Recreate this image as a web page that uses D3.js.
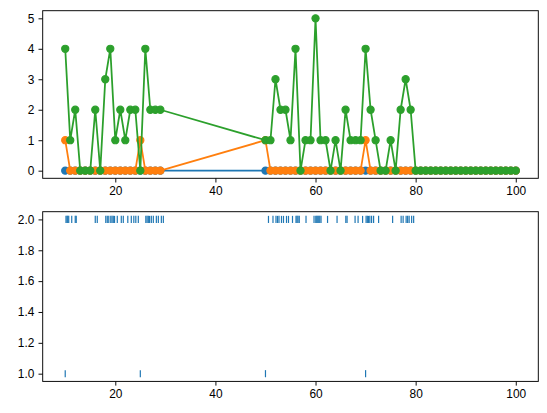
<!DOCTYPE html>
<html>
<head>
<meta charset="utf-8">
<script src="https://cdn.jsdelivr.net/npm/d3@7"></script>
<style>
  html, body { margin: 0; padding: 0; background: #fff; }
  svg { display: block; font-family: 'DejaVu Sans', sans-serif; }
  .tick text { font-size: 11.9px; fill: #000; }
  .tick line { stroke: #000; stroke-width: 0.95px; }
</style>
</head>
<body>
<svg id="chart" width="547" height="413"></svg>
<script>
// time bins shown in the top panel
const bins = [
  10, 11, 12, 13, 14, 15, 16, 17, 18, 19, 20, 21, 22, 23, 24, 25, 26, 27, 28, 29,
  50, 51, 52, 53, 54, 55, 56, 57, 58, 59, 60, 61, 62, 63, 64, 65, 66, 67, 68, 69,
  70, 71, 72, 73, 74, 75, 76, 77, 78, 79, 80, 81, 82, 83, 84, 85, 86, 87, 88, 89,
  90, 91, 92, 93, 94, 95, 96, 97, 98, 99, 100
];

const blueVals = [
  0, 0, 0, 0, 0, 0, 0, 0, 0, 0, 0, 0, 0, 0, 0, 0, 0, 0, 0, 0,
  0, 0, 0, 0, 0, 0, 0, 0, 0, 0, 0, 0, 0, 0, 0, 0, 0, 0, 0, 0,
  0, 0, 0, 0, 0, 0, 0, 0, 0, 0, 0, 0, 0, 0, 0, 0, 0, 0, 0, 0,
  0, 0, 0, 0, 0, 0, 0, 0, 0, 0, 0
];

const orangeVals = [
  1, 0, 0, 0, 0, 0, 0, 0, 0, 0, 0, 0, 0, 0, 0, 1, 0, 0, 0, 0,
  1, 0, 0, 0, 0, 0, 0, 0, 0, 0, 0, 0, 0, 0, 0, 0, 0, 0, 0, 0,
  1, 0, 0, 0, 0, 0, 0, 0, 0, 0, 0, 0, 0, 0, 0, 0, 0, 0, 0, 0,
  0, 0, 0, 0, 0, 0, 0, 0, 0, 0, 0
];

const greenVals = [
  4, 1, 2, 0, 0, 0, 2, 0, 3, 4, 1, 2, 1, 2, 2, 0, 4, 2, 2, 2,
  1, 1, 3, 2, 2, 1, 4, 0, 1, 1, 5, 1, 1, 0, 1, 0, 2, 1, 1, 1,
  4, 2, 1, 0, 0, 1, 0, 2, 3, 2, 0, 0, 0, 0, 0, 0, 0, 0, 0, 0,
  0, 0, 0, 0, 0, 0, 0, 0, 0, 0, 0
];

// event times for the bottom panel
const inputEvents = [10, 25, 50, 70];

const outputEvents = [
  10.15, 10.35, 10.5, 10.7, 11.3, 12.0, 12.2, 16.0, 16.4,
  18.1, 18.4, 18.7, 19.1, 19.35, 19.6, 19.85, 20.4, 21.2, 21.6,
  22.5, 23.2, 23.7, 24.1, 24.6, 26.1, 26.35, 26.6, 26.85,
  27.2, 27.6, 28.2, 28.6, 29.2, 29.6,
  50.6, 51.5, 52.1, 52.4, 52.7, 53.2, 53.6, 54.2, 54.6, 55.4,
  56.1, 56.3, 56.5, 56.75, 58.1, 59.7, 60.05, 60.25, 60.45, 60.65, 60.85,
  61.1, 62.4, 64.3, 66.05, 66.3, 67.9, 68.5, 69.4,
  70.1, 70.35, 70.6, 70.85, 71.2, 71.6, 72.6, 75.4,
  77.1, 77.5, 78.1, 78.4, 78.7, 79.2, 79.6
];

const xTicks = [20, 40, 60, 80, 100];
const topYTicks = [0, 1, 2, 3, 4, 5];
const botYTicks = [1.0, 1.2, 1.4, 1.6, 1.8, 2.0];

const svg = d3.select('#chart');

const left = 42.7, right = 538.3;
const topPanel = { top: 10.7, bottom: 178.3 };
const botPanel = { top: 211.7, bottom: 381.4 };

const x = d3.scaleLinear().domain([5.5, 104.5]).range([left, right]);
const yTop = d3.scaleLinear().domain([-0.25, 5.25]).range([topPanel.bottom, topPanel.top]);
const yBot = d3.scaleLinear().domain([0.95, 2.05]).range([botPanel.bottom, botPanel.top]);

function drawAxes(panel, yScale, yTicks, yFmt) {
  svg.append('g')
    .attr('transform', `translate(0,${panel.bottom})`)
    .call(d3.axisBottom(x).tickValues(xTicks).tickSize(4.2).tickPadding(4.2).tickSizeOuter(0))
    .call(g => g.select('.domain').remove());

  svg.append('g')
    .attr('transform', `translate(${left},0)`)
    .call(d3.axisLeft(yScale).tickValues(yTicks).tickFormat(yFmt).tickSize(4.2).tickPadding(4.2).tickSizeOuter(0))
    .call(g => g.select('.domain').remove());

  svg.append('rect')
    .attr('x', left)
    .attr('y', panel.top)
    .attr('width', right - left)
    .attr('height', panel.bottom - panel.top)
    .attr('fill', 'none')
    .attr('stroke', '#000')
    .attr('stroke-width', 0.95);
}

/* top panel: three series with circle markers */
const series = [
  { vals: blueVals, color: '#1f77b4' },
  { vals: orangeVals, color: '#ff7f0e' },
  { vals: greenVals, color: '#2ca02c' }
];

const line = d3.line()
  .x(d => x(d[0]))
  .y(d => yTop(d[1]));

series.forEach(s => {
  const pts = bins.map((b, i) => [b, s.vals[i]]);
  const g = svg.append('g');

  g.append('path')
    .attr('d', line(pts))
    .attr('fill', 'none')
    .attr('stroke', s.color)
    .attr('stroke-width', 1.78)
    .attr('stroke-linejoin', 'round');

  g.selectAll('circle')
    .data(pts)
    .enter()
    .append('circle')
      .attr('cx', d => x(d[0]))
      .attr('cy', d => yTop(d[1]))
      .attr('r', 3.56)
      .attr('fill', s.color)
      .attr('stroke', s.color)
      .attr('stroke-width', 1.19);
});

drawAxes(topPanel, yTop, topYTicks, d3.format('d'));

/* bottom panel: '|' markers at y=2 and y=1 */
const rows = [
  { events: outputEvents, level: 2 },
  { events: inputEvents, level: 1 }
];

rows.forEach(r => {
  svg.append('g')
    .selectAll('line')
    .data(r.events)
    .enter()
    .append('line')
      .attr('x1', d => x(d))
      .attr('x2', d => x(d))
      .attr('y1', yBot(r.level) - 3.55)
      .attr('y2', yBot(r.level) + 3.55)
      .attr('stroke', '#1f77b4')
      .attr('stroke-width', 1.19);
});

drawAxes(botPanel, yBot, botYTicks, d3.format('.1f'));
</script>
</body>
</html>
